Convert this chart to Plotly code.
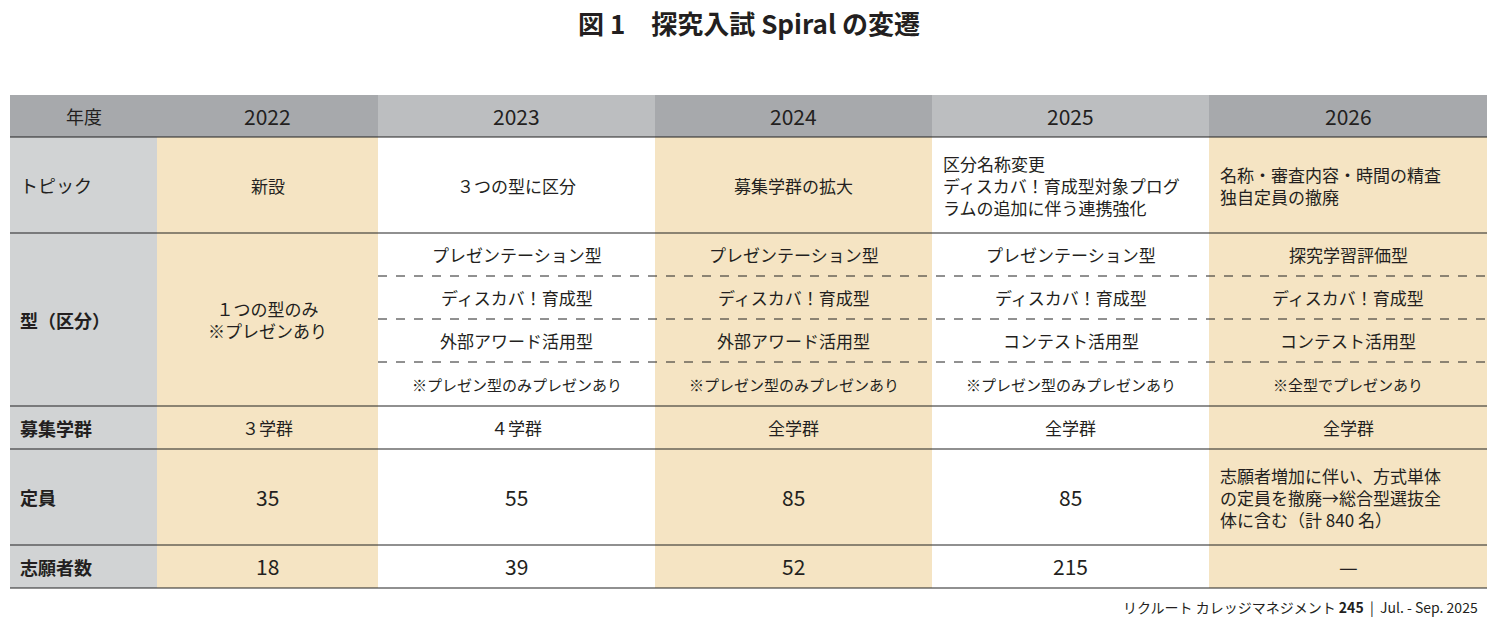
import plotly.graph_objects as go

W, H = 1497, 625
OFF = 8  # page body margin
FONT = "Noto Sans CJK JP"

years = ["2022", "2023", "2024", "2025", "2026"]
row_labels = ["トピック", "型（区分）", "募集学群", "定員", "志願者数"]
topics = ["新設", "３つの型に区分", "募集学群の拡大",
          "区分名称変更<br>ディスカバ！育成型対象プログ<br>ラムの追加に伴う連携強化",
          "名称・審査内容・時間の精査<br>独自定員の撤廃"]
type_2022 = "１つの型のみ<br>※プレゼンあり"
types = [
    ["プレゼンテーション型", "ディスカバ！育成型", "外部アワード活用型", "※プレゼン型のみプレゼンあり"],
    ["プレゼンテーション型", "ディスカバ！育成型", "外部アワード活用型", "※プレゼン型のみプレゼンあり"],
    ["プレゼンテーション型", "ディスカバ！育成型", "コンテスト活用型", "※プレゼン型のみプレゼンあり"],
    ["探究学習評価型", "ディスカバ！育成型", "コンテスト活用型", "※全型でプレゼンあり"],
]
groups = ["３学群", "４学群", "全学群", "全学群", "全学群"]
capacity = ["35", "55", "85", "85",
            "志願者増加に伴い、方式単体<br>の定員を撤廃→総合型選抜全<br>体に含む（計 840 名）"]
applicants = ["18", "39", "52", "215", "—"]

col_x = [10, 157, 378, 655, 932, 1209, 1487]
row_y = [95, 137, 233, 406, 449, 545, 588]
sub_y = [233, 276, 319, 362, 406]

BEIGE = "#f5e4c3"
DARK = "#a7a9ac"
LIGHT = "#bcbec0"
LABEL = "#d1d3d4"

fig = go.Figure()
shapes, ann = [], []

def rect(x0, x1, y0, y1, c):
    shapes.append(dict(type="rect", x0=x0, x1=x1, y0=y0, y1=y1, fillcolor=c,
                       line=dict(width=0), layer="below"))

def hline(x0, x1, y, dash="solid", w=1.2):
    shapes.append(dict(type="line", x0=x0, x1=x1, y0=y, y1=y,
                       line=dict(color="#222", width=w, dash=dash)))

def text(x, y, s, size=17, anchor="center", bold=False):
    if bold:
        s = "<b>" + s + "</b>"
    ann.append(dict(x=x, y=y, text=s, showarrow=False, xanchor=anchor, yanchor="middle",
                    align="left" if anchor == "left" else "center",
                    font=dict(family=FONT, size=size, color="#231f20")))

# header
for i in range(6):
    rect(col_x[i], col_x[i + 1], row_y[0], row_y[1], DARK if i in (0, 1, 3, 5) else LIGHT)
text((col_x[0] + col_x[1]) / 2, 116, "年度", 18)
for i, yr in enumerate(years):
    text((col_x[i + 1] + col_x[i + 2]) / 2, 116, yr, 21)

# body backgrounds
rect(col_x[0], col_x[1], row_y[1], row_y[-1], LABEL)
for i in range(5):
    if i in (0, 2, 4):
        rect(col_x[i + 1], col_x[i + 2], row_y[1], row_y[-1], BEIGE)

# row lines
for y in row_y[1:]:
    hline(col_x[0], col_x[-1], y)
for y in sub_y[1:-1]:
    hline(col_x[2], col_x[-1], y, dash="dash", w=1)

# row labels
for k, lab in enumerate(row_labels):
    yc = (row_y[k + 1] + row_y[k + 2]) / 2
    text(18, yc, lab, 18, anchor="left", bold=(k != 0))

cx = [(col_x[i + 1] + col_x[i + 2]) / 2 for i in range(5)]
for i, t in enumerate(topics):
    if i >= 3:
        text(col_x[i + 1] + 9, 185, t, 17, anchor="left")
    else:
        text(cx[i], 185, t, 17)
text(cx[0], 319, type_2022, 17)
for i, ts in enumerate(types):
    for j, t in enumerate(ts):
        yc = (sub_y[j] + sub_y[j + 1]) / 2
        text(cx[i + 1], yc, t, 15 if j == 3 else 17)
for i in range(5):
    text(cx[i], 427, groups[i], 17)
    if i == 4:
        text(col_x[5] + 9, 497, capacity[i], 17, anchor="left")
    else:
        text(cx[i], 497, capacity[i], 21)
    text(cx[i], 566, applicants[i], 21)

text(W / 2, 22, "図 1　探究入試 Spiral の変遷", 26, bold=True)
text(1480, 607, "リクルート カレッジマネジメント <b>245</b>  |  Jul. - Sep. 2025", 14, anchor="right")

fig.update_layout(
    width=W, height=H, margin=dict(l=0, r=0, t=0, b=0),
    paper_bgcolor="white", plot_bgcolor="white",
    xaxis=dict(range=[OFF, W + OFF], visible=False, fixedrange=True),
    yaxis=dict(range=[H + OFF, OFF], visible=False, fixedrange=True),
    shapes=shapes, annotations=ann, showlegend=False,
)
fig.write_html("out.html")
